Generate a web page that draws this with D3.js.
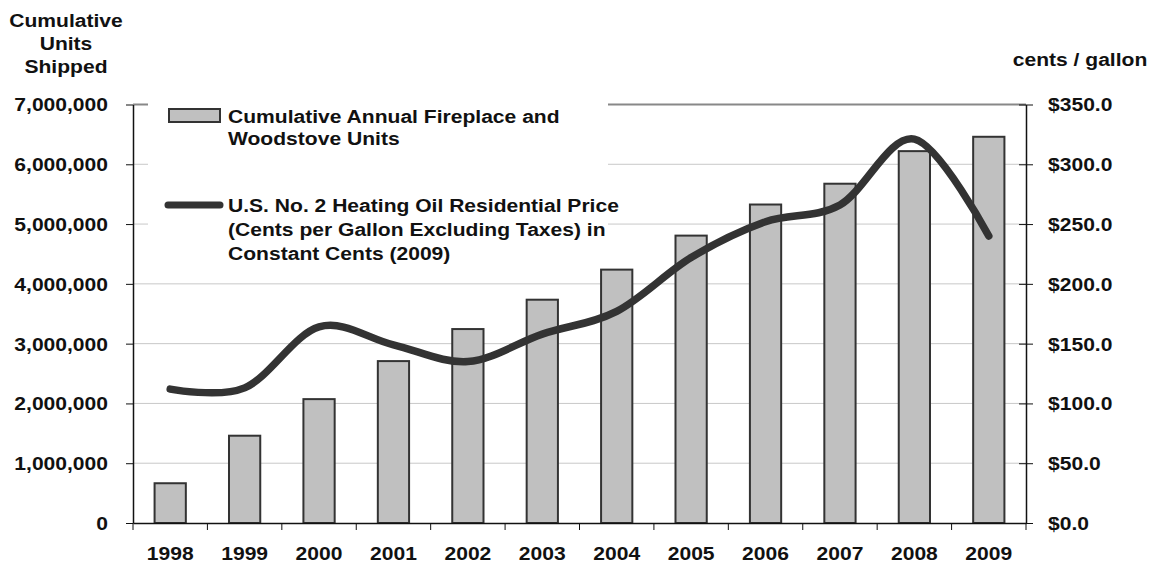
<!DOCTYPE html>
<html>
<head>
<meta charset="utf-8">
<script src="https://cdn.jsdelivr.net/npm/d3@7"></script>
<style>
  body { margin: 0; background: #fff; }
  text { font-family: "Liberation Sans", Arial, sans-serif; font-weight: bold; fill: #111; }
</style>
</head>
<body>
<div id="chart"></div>
<script>
// chart data
var years = ["1998","1999","2000","2001","2002","2003","2004","2005","2006","2007","2008","2009"];
var unitsShipped = [665000, 1460000, 2072000, 2708000, 3244000, 3735000, 4238000, 4807000, 5327000, 5675000, 6220000, 6460000];
var oilPrice = [112, 113, 164, 149, 135, 158, 177, 222, 252, 266, 321, 240];
var leftTicks = [0, 1000000, 2000000, 3000000, 4000000, 5000000, 6000000, 7000000];
var rightTicks = [0, 50, 100, 150, 200, 250, 300, 350];
var barLegend = ["Cumulative Annual Fireplace and", "Woodstove Units"];
var lineLegend = ["U.S. No. 2 Heating Oil Residential Price", "(Cents per Gallon Excluding Taxes) in", "Constant Cents (2009)"];
var leftTitle = ["Cumulative", "Units", "Shipped"];
var rightTitle = "cents / gallon";

var W = 1154, H = 569;
var margin = { top: 104.5, right: 128, bottom: 46, left: 133 };
var width = W - margin.left - margin.right,
    height = H - margin.top - margin.bottom;

var svg = d3.select("#chart").append("svg")
    .attr("width", W)
    .attr("height", H);

var g = svg.append("g")
    .attr("transform", "translate(" + margin.left + "," + margin.top + ")");

var x = d3.scaleBand()
    .domain(years)
    .range([0, width])
    .paddingInner(0.58)
    .paddingOuter(0.29);

var yL = d3.scaleLinear().domain([0, 7000000]).range([height, 0]);
var yR = d3.scaleLinear().domain([0, 350]).range([height, 0]);

// gridlines
g.selectAll(".grid").data(leftTicks.slice(1))
  .enter().append("line")
    .attr("class", "grid")
    .attr("x1", 0).attr("x2", width)
    .attr("y1", function(d){ return yL(d); })
    .attr("y2", function(d){ return yL(d); })
    .attr("stroke", function(d){ return d === 7000000 ? "#888" : "#c8c8c8"; })
    .attr("stroke-width", function(d){ return d === 7000000 ? 2 : 1; });

// legend background hides the grid
var lx = 15;
g.append("rect")
  .attr("x", lx).attr("y", -6)
  .attr("width", 460).attr("height", 170)
  .attr("fill", "#fff");

// bars
g.selectAll(".bar").data(unitsShipped)
  .enter().append("rect")
    .attr("class", "bar")
    .attr("x", function(d, i){ return x(years[i]); })
    .attr("width", x.bandwidth())
    .attr("y", function(d){ return yL(d); })
    .attr("height", function(d){ return height - yL(d); })
    .attr("fill", "#c0c0c0")
    .attr("stroke", "#333")
    .attr("stroke-width", 2);

// price line
var line = d3.line()
  .x(function(d, i){ return x(years[i]) + x.bandwidth() / 2; })
  .y(function(d){ return yR(d); })
  .curve(d3.curveCatmullRom.alpha(0));

g.append("path")
  .datum(oilPrice)
  .attr("d", line)
  .attr("fill", "none")
  .attr("stroke", "#333")
  .attr("stroke-width", 7.5)
  .attr("stroke-linecap", "round");

// axes
var leftAxis = d3.axisLeft(yL).tickValues(leftTicks).tickSizeInner(7).tickSizeOuter(0).tickPadding(18)
  .tickFormat(d3.format(","));
var gl = g.append("g").call(leftAxis);

var rightAxis = d3.axisRight(yR).tickValues(rightTicks).tickSizeInner(7).tickSizeOuter(0).tickPadding(15)
  .tickFormat(function(d){ return "$" + d.toFixed(1); });
var gr = g.append("g").attr("transform", "translate(" + width + ",0)").call(rightAxis);
gr.selectAll(".tick line").attr("x1", -7);

var gb = g.append("g").attr("transform", "translate(0," + height + ")")
  .call(d3.axisBottom(x).tickSize(0).tickPadding(24));

// tick marks between categories
var bounds = d3.range(years.length + 1).map(function(i){ return i * x.step(); });
gb.selectAll(".bound").data(bounds)
  .enter().append("line")
    .attr("x1", function(d){ return d; }).attr("x2", function(d){ return d; })
    .attr("y1", 0).attr("y2", 7)
    .attr("stroke", "#111");

[gl, gr, gb].forEach(function(a){
  a.selectAll("text").style("font-size", "18px").attr("fill", "#111");
  a.selectAll(".domain").attr("stroke", "#111").attr("stroke-width", 1.5);
  a.selectAll(".tick line").attr("stroke", "#111");
});
gl.selectAll(".tick text").attr("dy", "0.36em");
gr.selectAll(".tick text").attr("dy", "0.36em");

// legend
var leg = g.append("g");
leg.append("rect")
  .attr("x", lx + 21).attr("y", 4.5)
  .attr("width", 51).attr("height", 13)
  .attr("fill", "#c0c0c0").attr("stroke", "#333").attr("stroke-width", 2);
leg.selectAll(".lb").data(barLegend).enter().append("text")
  .attr("x", lx + 80)
  .attr("y", function(d, i){ return 18 + i * 22; })
  .style("font-size", "18px")
  .text(function(d){ return d; });

leg.append("line")
  .attr("x1", lx + 20).attr("x2", lx + 72)
  .attr("y1", 100.5).attr("y2", 100.5)
  .attr("stroke", "#333").attr("stroke-width", 7).attr("stroke-linecap", "round");
leg.selectAll(".ll").data(lineLegend).enter().append("text")
  .attr("x", lx + 80)
  .attr("y", function(d, i){ return 107 + i * 24; })
  .style("font-size", "18px")
  .text(function(d){ return d; });

// axis titles
svg.selectAll(".lt").data(leftTitle).enter().append("text")
  .attr("x", 66)
  .attr("y", function(d, i){ return 27 + i * 23; })
  .attr("text-anchor", "middle")
  .style("font-size", "18px")
  .text(function(d){ return d; });

svg.append("text")
  .attr("x", 1080).attr("y", 66)
  .attr("text-anchor", "middle")
  .style("font-size", "18px")
  .text(rightTitle);

// the source type is wider than Arial: stretch every label
svg.selectAll("text").each(function(){
  var w = this.getComputedTextLength();
  this.setAttribute("textLength", w * 1.17);
  this.setAttribute("lengthAdjust", "spacingAndGlyphs");
});
</script>
</body>
</html>
